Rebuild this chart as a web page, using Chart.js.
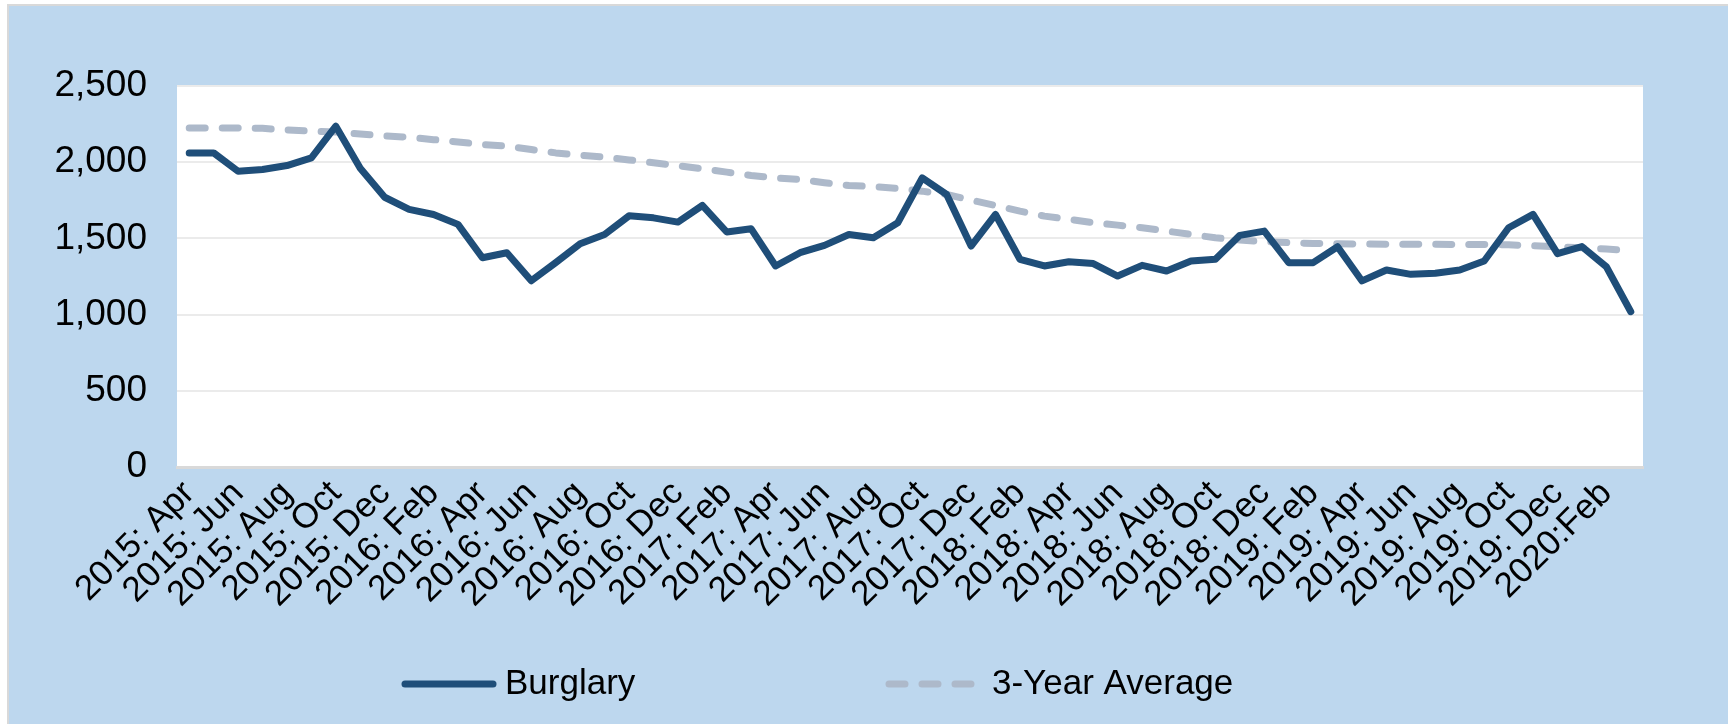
<!DOCTYPE html>
<html><head><meta charset="utf-8">
<script src="https://cdn.jsdelivr.net/npm/chart.js@4.4.1/dist/chart.umd.min.js"></script>
<style>
html,body{margin:0;padding:0;background:#fff;width:1728px;height:724px;overflow:hidden}
#frame{position:absolute;left:7px;top:4px;right:0;bottom:0;background:#BDD7EE;border-left:2px solid #D9D9D9;border-top:2px solid #D9D9D9}
#wrap{position:absolute;left:0;top:0;width:1728px;height:724px}
</style></head>
<body><div id="frame"></div><div id="wrap"><canvas id="c" width="1728" height="724"></canvas></div>
<script>
const categories = [
 "2015: Apr","2015: May","2015: Jun","2015: Jul","2015: Aug","2015: Sep","2015: Oct","2015: Nov","2015: Dec",
 "2016: Jan","2016: Feb","2016: Mar","2016: Apr","2016: May","2016: Jun","2016: Jul","2016: Aug","2016: Sep","2016: Oct","2016: Nov","2016: Dec",
 "2017: Jan","2017: Feb","2017: Mar","2017: Apr","2017: May","2017: Jun","2017: Jul","2017: Aug","2017: Sep","2017: Oct","2017: Nov","2017: Dec",
 "2018: Jan","2018: Feb","2018: Mar","2018: Apr","2018: May","2018: Jun","2018: Jul","2018: Aug","2018: Sep","2018: Oct","2018: Nov","2018: Dec",
 "2019: Jan","2019: Feb","2019: Mar","2019: Apr","2019: May","2019: Jun","2019: Jul","2019: Aug","2019: Sep","2019: Oct","2019: Nov","2019: Dec",
 "2020: Jan","2020:Feb","2020: Mar"
];
const burglary = [
 2061,2061,1941,1952,1978,2028,2236,1960,1770,
 1690,1657,1592,1373,1406,1222,1341,1465,1526,1648,1635,1607,
 1716,1542,1563,1319,1406,1454,1526,1504,1603,1897,1788,1450,
 1657,1363,1319,1347,1335,1253,1323,1286,1352,1363,1520,1548,
 1341,1341,1445,1221,1293,1264,1271,1293,1352,1570,1658,1400,
 1446,1314,1019
];
const threeYearAvg = [
 2225,2225,2225,2222,2212,2203,2198,2185,2172,
 2164,2148,2133,2116,2105,2083,2061,2046,2033,2015,1996,1978,
 1956,1935,1913,1897,1886,1865,1847,1840,1828,1810,1788,1751,
 1716,1679,1646,1625,1603,1587,1570,1548,1526,1504,1489,1478,
 1472,1467,1465,1463,1462,1462,1461,1460,1460,1458,1452,1445,
 1438,1430,1420
];
const yTickValues = [0, 500, 1000, 1500, 2000, 2500];
const seriesNames = ["Burglary", "3-Year Average"];

const FONT = "'Liberation Sans', Arial, sans-serif";
const BLUE = '#1F4E79';
const GREY = '#ADB9CA';

const plotBg = {
  id: 'plotBg',
  beforeDraw(chart) {
    const {ctx, chartArea: a} = chart;
    ctx.save();
    ctx.fillStyle = '#ffffff';
    ctx.fillRect(a.left, a.top, a.right - a.left, a.bottom - a.top);
    ctx.restore();
  }
};

const customLegend = {
  id: 'customLegend',
  afterDraw(chart) {
    const ctx = chart.ctx;
    const y = 684;
    const items = [
      {x0: 405, x1: 493, color: BLUE, dash: [], text: seriesNames[0], tx: 505},
      {x0: 889, x1: 978, color: GREY, dash: [16, 17], text: seriesNames[1], tx: 992}
    ];
    ctx.save();
    items.forEach(it => {
      ctx.beginPath();
      ctx.lineWidth = 7;
      ctx.lineCap = 'round';
      ctx.strokeStyle = it.color;
      ctx.setLineDash(it.dash);
      ctx.moveTo(it.x0, y);
      ctx.lineTo(it.x1, y);
      ctx.stroke();
      ctx.setLineDash([]);
      ctx.fillStyle = '#000';
      ctx.font = '35px ' + FONT;
      ctx.textBaseline = 'middle';
      ctx.textAlign = 'left';
      ctx.fillText(it.text, it.tx, y);
    });
    ctx.restore();
  }
};

new Chart(document.getElementById('c'), {
  type: 'line',
  data: {
    labels: categories,
    datasets: [
      {label: seriesNames[0], data: burglary, borderColor: BLUE, backgroundColor: BLUE,
       borderWidth: 7, pointRadius: 0, tension: 0, borderJoinStyle: 'round', borderCapStyle: 'round', order: 1},
      {label: seriesNames[1], data: threeYearAvg, borderColor: GREY, backgroundColor: GREY,
       borderWidth: 7, pointRadius: 0, tension: 0, borderDash: [16, 17], borderCapStyle: 'round', borderJoinStyle: 'round', order: 2}
    ]
  },
  options: {
    responsive: false,
    devicePixelRatio: 1,
    animation: false,
    layout: {padding: {top: 86, right: 85, left: 0, bottom: 0}},
    plugins: {legend: {display: false}, tooltip: {enabled: false}},
    scales: {
      x: {
        offset: true,
        grid: {display: false, drawTicks: false},
        border: {display: true, color: '#D9D9D9', width: 3},
        afterFit(s) { s.height = 257; },
        ticks: {
          autoSkip: false, minRotation: 45, maxRotation: 45, padding: 6,
          color: '#000', font: {family: FONT, size: 35},
          callback: (v, i) => (i % 2 === 0 ? categories[i] : '')
        }
      },
      y: {
        min: 0, max: 2500,
        afterFit(s) { s.width = 177; },
        afterBuildTicks(s) { s.ticks = yTickValues.map(v => ({value: v})); },
        grid: {color: '#EBEBEB', lineWidth: 2, drawTicks: false},
        border: {display: false},
        ticks: {
          padding: 30, color: '#000', font: {family: FONT, size: 37},
          callback: v => v.toLocaleString('en-US')
        }
      }
    }
  },
  plugins: [plotBg, customLegend]
});
</script>
</body></html>
